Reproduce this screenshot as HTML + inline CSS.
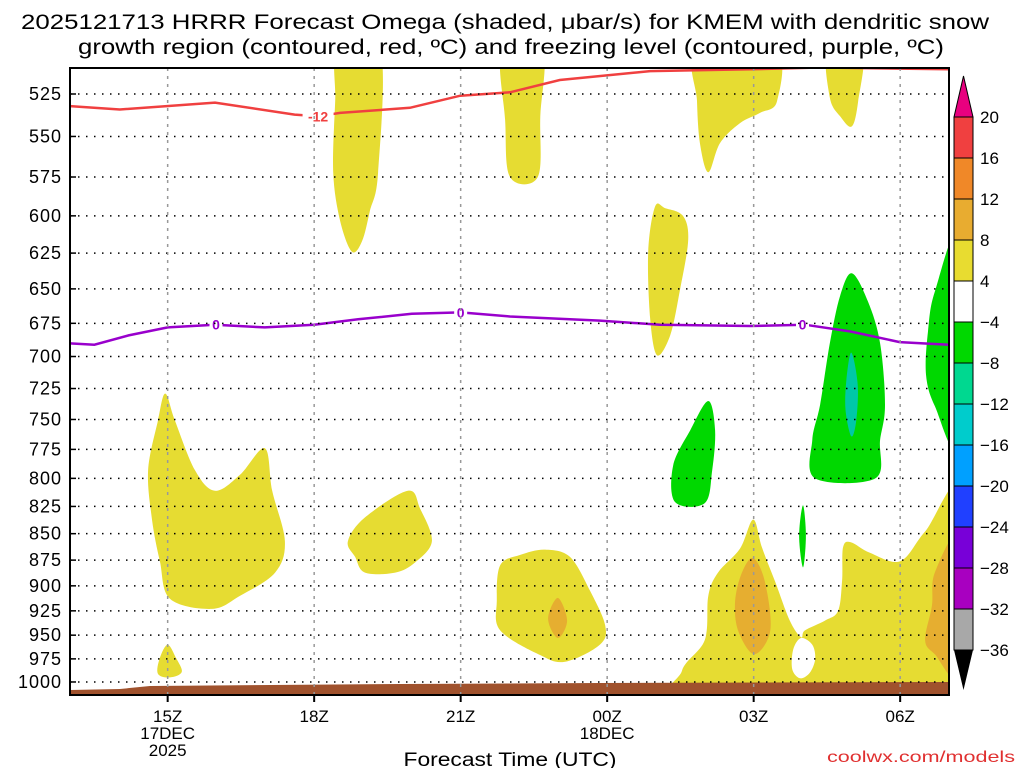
<!DOCTYPE html>
<html><head><meta charset="utf-8"><style>
body{margin:0;background:#fff;}
svg{display:block;font-family:"Liberation Sans",sans-serif;}
</style></head><body>
<svg id="chart" width="1024" height="768" xmlns="http://www.w3.org/2000/svg">
<text x="505" y="29" text-anchor="middle" font-size="21" textLength="968" lengthAdjust="spacingAndGlyphs">2025121713 HRRR Forecast Omega (shaded, μbar/s) for KMEM with dendritic snow</text>
<text x="511" y="54" text-anchor="middle" font-size="21" textLength="866" lengthAdjust="spacingAndGlyphs">growth region (contoured, red, ºC) and freezing level (contoured, purple, ºC)</text>
<text x="510" y="766" text-anchor="middle" font-size="19" textLength="213" lengthAdjust="spacingAndGlyphs">Forecast Time (UTC)</text>
<text x="1015" y="762" text-anchor="end" font-size="16" fill="#e03030" textLength="188" lengthAdjust="spacingAndGlyphs">coolwx.com/models</text>
<g id="plot"></g>
<g id="cbar"></g>
</svg>
<script>
const NS="http://www.w3.org/2000/svg";
const pressureTicks=[525,550,575,600,625,650,675,700,725,750,775,800,825,850,875,900,925,950,975,1000];
const hourTicks=[15,18,21,24,27,30];
const hourLabels=["15Z","18Z","21Z","00Z","03Z","06Z"];
const cbarLevels=[20,16,12,8,4,-4,-8,-12,-16,-20,-24,-28,-32,-36];
const cbarColors=["#f04040","#f08828","#e8ac30","#e8dc30","#ffffff","#00d800","#00d890","#00cccc","#00a0ff","#2040ff","#7800d8","#a800c0","#a8a8a8"];
// shaded omega regions: hours (since 00Z 17 Dec) and pressure (hPa)
const yellowShapes=[
 {h:[18.49,19.35,19.31,19.14,18.98,18.77,18.53,18.39,18.43],p:[500,500,572,597,617,624,603,572,529]},
 {h:[21.85,22.67,22.63,22.58,22.01,21.91],p:[500,500,538,575,575,540]},
 {h:[25.84,27.44,27.48,27.13,26.72,26.31,26.07,25.90,25.84],p:[500,500,529,536,542,554,572,554,529]},
 {h:[28.52,29.22,29.14,29.01,28.77,28.56],p:[500,500,529,544,538,527]},
 {h:[24.98,25.19,25.55,25.66,25.49,25.29,25.02,24.88,24.84],p:[594,595,600,616,651,684,699,671,624]},
 {h:[14.95,15.15,15.56,15.97,16.48,16.99,17.14,17.40,17.20,16.48,15.91,15.05,14.84,14.68,14.60,14.80],p:[729,751,793,811,797,774,811,857,887,910,923,913,876,837,793,751]},
 {h:[15.0,15.17,15.29,15.05,14.80,14.84],p:[960,974,989,995,991,974]},
 {h:[18.69,19.04,19.92,20.17,20.41,20.07,19.66,19.04,18.84],p:[857,835,811,827,857,877,887,887,872]},
 {h:[21.81,22.22,22.73,23.24,23.65,23.96,23.85,23.14,22.63,21.81,21.74],p:[880,870,865,872,905,940,960,978,971,945,915]},
 {h:[25.53,26.0,26.07,26.27,26.72,26.99,27.17,27.44,27.74,27.97,28.05,28.46,28.73,28.81,28.83,28.99,29.38,30.0,30.51,31.3,31.3,25.6],p:[988,955,910,887,864,837,863,896,935,952,945,935,925,895,863,858,868,876,848,810,1030,1030]}
];
const orangeShapes=[
 {h:[22.99,23.18,22.99,22.79],p:[912,935,953,933]},
 {h:[26.99,27.23,27.34,27.01,26.68,26.62,26.76],p:[873,896,945,970,945,915,887]},
 {h:[31.2,30.71,30.65,30.51,30.71,31.2],p:[855,887,920,955,970,990]}
];
const whiteShapes=[
 {h:[27.97,28.2,28.26,28.15,27.95,27.79,27.81],p:[953,960,975,990,996,986,965]}
];
const greenShapes=[
 {h:[26.07,26.21,26.15,26.0,25.39,25.35,25.7],p:[735,759,793,822,821,789,759]},
 {h:[29.01,29.34,29.59,29.69,29.59,29.49,28.26,28.2,28.36,28.56,28.77],p:[639,659,690,738,767,800,800,767,738,690,655]},
 {h:[31.2,30.71,30.57,30.53,30.71,31.2],p:[615,652,681,714,739,770]},
 {h:[28.01,28.07,28.01,27.93],p:[824,852,882,852]}
];
const tealShapes=[
 {h:[29.0,29.13,29.1,29.0,28.88,28.9],p:[697,722,751,764,742,718]}
];
const redHours=[13,14.02,15.97,17.6,18.08,18.53,19.96,20.99,22.01,23.03,24.88,26.93,28.36,31];
const redP=[532,534,530,537,538,536,533,526,524,517,512,511,510,511];
const purpleHours=[13,13.5,14.2,15,15.97,16.99,18,18.9,20.0,21,22.01,23.85,25.08,26.93,28.05,28.97,29.99,31];
const purpleP=[690,691,684,678,676,678,676,672,668,667,670,673,676,677,676,681,689,691];
const redLabels=[{h:18.08,p:538,t:"-12"}];
const purpleLabels=[{h:15.99,p:676,t:"0"},{h:21.0,p:667,t:"0"},{h:28.0,p:676,t:"0"}];

const X0=70,X1=949,Y0=68,Y1=695,H0=13,H1=31;
const x=h=>X0+(h-H0)*(X1-X0)/(H1-H0);
const y=p=>94+(Math.log(p)-Math.log(525))*912.5;
const plot=document.getElementById('plot');
function mk(tag,attrs,parent){const e=document.createElementNS(NS,tag);for(const k in attrs)e.setAttribute(k,attrs[k]);(parent||plot).appendChild(e);return e;}
const clip=mk('clipPath',{id:'pc'});mk('rect',{x:X0,y:Y0,width:X1-X0,height:Y1-Y0},clip);
const g=mk('g',{'clip-path':'url(#pc)'});
function smoothPath(pts){const n=pts.length;let d=`M${pts[0][0].toFixed(1)},${pts[0][1].toFixed(1)}`;
 for(let i=0;i<n;i++){const p0=pts[(i-1+n)%n],p1=pts[i],p2=pts[(i+1)%n],p3=pts[(i+2)%n];
  const c1=[p1[0]+(p2[0]-p0[0])/6,p1[1]+(p2[1]-p0[1])/6],c2=[p2[0]-(p3[0]-p1[0])/6,p2[1]-(p3[1]-p1[1])/6];
  d+=`C${c1[0].toFixed(1)},${c1[1].toFixed(1)} ${c2[0].toFixed(1)},${c2[1].toFixed(1)} ${p2[0].toFixed(1)},${p2[1].toFixed(1)}`;}
 return d+'Z';}
function shapes(list,color,name){list.forEach(s=>{const pts=s.h.map((h,i)=>[x(h),y(s.p[i])]);
 const e=mk('path',{d:smoothPath(pts),fill:color},g);
 
 });}
shapes(yellowShapes,'#e6dc32','omega-region-4-8');
shapes(orangeShapes,'#e6ae30','omega-region-8-12');
shapes(whiteShapes,'#ffffff','omega-region-neutral');
shapes(greenShapes,'#00d800','omega-region-neg4-neg8');
shapes(tealShapes,'#00c8a8','omega-region-neg8-neg12');
// terrain
const terr=mk('polygon',{points:`70,695 70,690 120,689 150,686 400,684 600,683 949,682 949,695`,fill:'#a0522d'},g);


// grid
pressureTicks.forEach(p=>{const l=mk('line',{x1:X0,x2:X1,y1:y(p),y2:y(p),stroke:'#000','stroke-width':1.5,'stroke-dasharray':'1.5 6.5'});
 
 
 const tk=mk('line',{x1:X0,x2:X0+6,y1:y(p),y2:y(p),stroke:'#000','stroke-width':1.5});
 
 
 const t=mk('text',{x:62,y:y(p)+6,'text-anchor':'end','font-size':18,'letter-spacing':1});t.textContent=p;
 
 });
hourTicks.forEach((h,i)=>{const l=mk('line',{x1:x(h),x2:x(h),y1:Y0,y2:Y1,stroke:'#999','stroke-width':1.5,'stroke-dasharray':'3 5'});
 
 
 const tk=mk('line',{x1:x(h),x2:x(h),y1:Y1,y2:Y1+7,stroke:'#000','stroke-width':2});
 
 
 const t=mk('text',{x:x(h),y:722,'text-anchor':'middle','font-size':17});t.textContent=hourLabels[i];
 
 });
[["17DEC",x(15),739],["2025",x(15),756],["18DEC",x(24),739]].forEach(a=>{const t=mk('text',{x:a[1],y:a[2],'text-anchor':'middle','font-size':17});t.textContent=a[0];
 
 });
// contour lines
function line(hs,ps,color,name){const pts=hs.map((h,i)=>x(h).toFixed(1)+','+y(ps[i]).toFixed(1)).join(' ');
 const e=mk('polyline',{points:pts,fill:'none',stroke:color,'stroke-width':2.5},g);
 
 }
line(redHours,redP,'#f04040','dgz-contour-neg12');
line(purpleHours,purpleP,'#9900cc','freezing-level-contour');
function labels(list,color){list.forEach(l=>{const bx=x(l.h),by=y(l.p);const w=l.t.length*9+4;
 mk('rect',{x:bx-w/2,y:by-8,width:w,height:16,fill:'#fff'},g);
 const t=mk('text',{x:bx,y:by+5,'text-anchor':'middle','font-size':14,'font-weight':'bold',fill:color},g);t.textContent=l.t;
 
 });}
labels(redLabels,'#f04040');labels(purpleLabels,'#9900cc');
const fr=mk('rect',{x:X0,y:Y0,width:X1-X0,height:Y1-Y0,fill:'none',stroke:'#000','stroke-width':2});


// colorbar
const cb=document.getElementById('cbar');
const cx0=954,cx1=973,ct=117,cs=(650-117)/(cbarLevels.length-1);
const tri1=mk('polygon',{points:`${cx0},${ct} ${cx1},${ct} ${(cx0+cx1)/2},76`,fill:'#e8007f',stroke:'#000','stroke-width':1},cb);


cbarColors.forEach((c,i)=>{const r=mk('rect',{x:cx0,y:ct+i*cs,width:cx1-cx0,height:cs,fill:c,stroke:'#000','stroke-width':1},cb);
 
 });
const yb=ct+cbarColors.length*cs;
const tri2=mk('polygon',{points:`${cx0},${yb} ${cx1},${yb} ${(cx0+cx1)/2},690`,fill:'#000'},cb);


cbarLevels.forEach((v,i)=>{const t=mk('text',{x:980,y:ct+i*cs+6,'font-size':17},cb);t.textContent=v<0?'\u2212'+(-v):v;
 
 });
</script>
</body></html>
